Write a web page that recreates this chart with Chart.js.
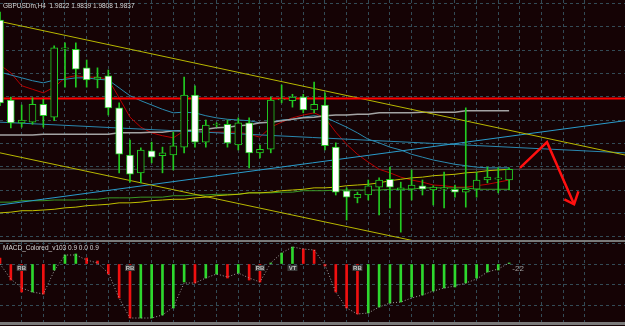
<!DOCTYPE html>
<html>
<head>
<meta charset="utf-8">
<script src="https://cdn.jsdelivr.net/npm/chart.js@4.4.1/dist/chart.umd.min.js"></script>
<style>
  body { margin: 0; background: #150305; width: 625px; height: 326px; overflow: hidden; position: relative; font-family: 'Liberation Sans', Arial, sans-serif; }
  canvas { position: absolute; left: 0; }
  #main { top: 0; }
  #macd { top: 242px; }
  .sep { position: absolute; left: 0; width: 625px; background: #7a7a7a; }
  .lbl { position: absolute; left: 3px; color: #d6d6d6; font-size: 6.5px; line-height: 1; white-space: pre; }
</style>
</head>
<body>
<canvas id="main" width="625" height="240"></canvas>
<div class="sep" style="top:240px;height:2px"></div>
<canvas id="macd" width="625" height="80"></canvas>
<div class="sep" style="top:322px;height:3px"></div>
<div class="lbl" id="head" style="top:3px"></div>
<div class="lbl" id="macdName" style="top:245px"></div>

<script>
const symbol = 'GBPUSDm'
const period = 'H4'

// H4 candles, oldest first
const opens  = [2.0046, 1.9934, 1.9902, 1.9903, 1.9928, 1.9910, 2.0005, 2.0005, 1.9979, 1.9963,
                1.9968, 1.9923, 1.9857, 1.9832, 1.9863, 1.9856, 1.9857, 1.9868, 1.9941, 1.9875,
                1.9899, 1.9900, 1.9871, 1.9902, 1.9860, 1.9865, 1.9934, 1.9933, 1.9938, 1.9920,
                1.9927, 1.9868, 1.9807, 1.9797, 1.9801, 1.9812, 1.9823, 1.9808, 1.9809, 1.9814,
                1.9808, 1.9809, 1.9809, 1.9805, 1.9809, 1.9822, 1.9823, 1.9822]
const highs  = [2.0057, 1.9938, 1.9927, 1.9937, 1.9935, 2.0010, 2.0014, 2.0014, 1.9990, 1.9979,
                1.9976, 1.9930, 1.9878, 1.9867, 1.9875, 1.9868, 1.9889, 1.9966, 1.9954, 1.9906,
                1.9902, 1.9906, 1.9909, 1.9909, 1.9871, 1.9938, 1.9955, 1.9942, 1.9942, 1.9959,
                1.9944, 1.9874, 1.9811, 1.9805, 1.9822, 1.9825, 1.9840, 1.9819, 1.9836, 1.9822,
                1.9814, 1.9833, 1.9815, 1.9923, 1.9833, 1.9840, 1.9839, 1.9839]
const lows   = [1.9926, 1.9895, 1.9896, 1.9900, 1.9896, 1.9905, 1.9952, 1.9952, 1.9952, 1.9951,
                1.9913, 1.9832, 1.9819, 1.9818, 1.9846, 1.9832, 1.9836, 1.9860, 1.9868, 1.9868,
                1.9896, 1.9868, 1.9864, 1.9839, 1.9853, 1.9860, 1.9930, 1.9924, 1.9916, 1.9916,
                1.9864, 1.9801, 1.9766, 1.9790, 1.9794, 1.9773, 1.9783, 1.9749, 1.9794, 1.9801,
                1.9787, 1.9783, 1.9798, 1.9784, 1.9798, 1.9818, 1.9804, 1.9808]
const closes = [1.9930, 1.9902, 1.9906, 1.9928, 1.9912, 2.0007, 2.0007, 1.9977, 1.9962, 1.9966,
                1.9923, 1.9858, 1.9830, 1.9864, 1.9854, 1.9860, 1.9870, 1.9941, 1.9875, 1.9899,
                1.9900, 1.9874, 1.9902, 1.9860, 1.9865, 1.9934, 1.9935, 1.9938, 1.9920, 1.9928,
                1.9870, 1.9805, 1.9798, 1.9802, 1.9814, 1.9822, 1.9812, 1.9811, 1.9815, 1.9809,
                1.9812, 1.9811, 1.9805, 1.9809, 1.9822, 1.9826, 1.9825, 1.9837]

// moving averages drawn on the price window
const maRed    = [1.9983, 1.9972, 1.9954, 1.9949, 1.9944, 1.9952, 1.9965, 1.9968, 1.9966, 1.9966,
                  1.9963, 1.9937, 1.9910, 1.9896, 1.9888, 1.9884, 1.9881, 1.9891, 1.9891, 1.9889,
                  1.9889, 1.9889, 1.9889, 1.9886, 1.9882, 1.9896, 1.9903, 1.9909, 1.9913, 1.9916,
                  1.9909, 1.9889, 1.9872, 1.9858, 1.9847, 1.9837, 1.9832, 1.9826, 1.9822, 1.9819,
                  1.9815, 1.9814, 1.9812, 1.9812, 1.9814, 1.9816, 1.9819, 1.9822]
const maTeal   = [1.9973, 1.9969, 1.9965, 1.9961, 1.9958, 1.9962, 1.9963, 1.9965, 1.9965, 1.9963,
                  1.9962, 1.9951, 1.9940, 1.9933, 1.9927, 1.9921, 1.9916, 1.9917, 1.9916, 1.9912,
                  1.9909, 1.9907, 1.9906, 1.9905, 1.9902, 1.9903, 1.9906, 1.9907, 1.9910, 1.9912,
                  1.9910, 1.9903, 1.9896, 1.9888, 1.9879, 1.9874, 1.9868, 1.9864, 1.9858, 1.9854,
                  1.9850, 1.9847, 1.9844, 1.9842, 1.9840, 1.9839, 1.9839, 1.9839]
const maGray   = [1.9885, 1.9885, 1.9885, 1.9885, 1.9886, 1.9886, 1.9886, 1.9886, 1.9886, 1.9886,
                  1.9886, 1.9888, 1.9888, 1.9888, 1.9889, 1.9889, 1.9891, 1.9891, 1.9892, 1.9893,
                  1.9895, 1.9896, 1.9898, 1.9899, 1.9902, 1.9903, 1.9905, 1.9907, 1.9909, 1.9910,
                  1.9912, 1.9913, 1.9913, 1.9914, 1.9914, 1.9916, 1.9916, 1.9916, 1.9916, 1.9917,
                  1.9917, 1.9917, 1.9917, 1.9919, 1.9919, 1.9919, 1.9919, 1.9919]
const maYellow = [1.9776, 1.9777, 1.9779, 1.9779, 1.9780, 1.9781, 1.9783, 1.9784, 1.9786, 1.9787,
                  1.9788, 1.9790, 1.9790, 1.9791, 1.9793, 1.9794, 1.9795, 1.9795, 1.9797, 1.9798,
                  1.9800, 1.9801, 1.9802, 1.9804, 1.9804, 1.9805, 1.9807, 1.9808, 1.9809, 1.9811,
                  1.9811, 1.9812, 1.9814, 1.9815, 1.9816, 1.9818, 1.9821, 1.9823, 1.9825, 1.9826,
                  1.9828, 1.9829, 1.9830, 1.9832, 1.9833, 1.9835, 1.9836, 1.9837]
const maGreen  = [1.9791, 1.9791, 1.9793, 1.9793, 1.9793, 1.9794, 1.9794, 1.9794, 1.9795, 1.9795,
                  1.9797, 1.9797, 1.9797, 1.9798, 1.9798, 1.9798, 1.9800, 1.9800, 1.9801, 1.9801,
                  1.9802, 1.9802, 1.9802, 1.9804, 1.9804, 1.9804, 1.9805, 1.9805, 1.9807, 1.9807,
                  1.9807, 1.9808, 1.9808, 1.9808, 1.9808, 1.9808, 1.9809, 1.9809, 1.9809, 1.9811,
                  1.9811, 1.9811, 1.9811, 1.9811, 1.9809, 1.9809, 1.9809, 1.9809]

// hand drawn objects: [bar index, price]
const trendUpper = [[0, 2.0044], [57.7, 1.9857]]
const trendLower = [[0, 1.9860], [57.7, 1.9674]]
const trendCyan  = [[0, 1.9787], [57.7, 1.9905]]
const trendTeal  = [[0, 1.9903], [57.7, 1.9860]]
const levelRed   = 1.9936
const arrowPath  = [[48.0, 1.9839], [50.5, 1.9875], [53.0, 1.9788]]
const arrowHead  = [[52.1, 1.9795], [53.0, 1.9788], [53.4, 1.9806]]

// price grid levels
const gridPrices = [2.0069, 2.0037, 2.0004, 1.9971, 1.9939, 1.9906, 1.9873, 1.9841, 1.9808, 1.9775, 1.9743]

// MACD_Colored window
const macdHist   = [6, -16, -28, -28, -30, -6, 9, 10, 6, 3,
                    -10, -34, -54, -54, -54, -51, -44, -18, -19, -14,
                    -10, -14, -9, -16, -18, 1, 11, 17, 15, 14,
                    -2, -28, -44, -50, -49, -43, -39, -38, -33, -31,
                    -27, -24, -23, -19, -14, -8, -6, 1]
const macdSignal = [0, -15, -24, -28, -30, -7, 9, 9, 4, 1,
                    -9, -34, -54, -54, -54, -51, -43, -19, -19, -14,
                    -10, -13, -9, -14, -18, 1, 11, 17, 15, 14,
                    -1, -28, -44, -50, -49, -43, -39, -38, -34, -31,
                    -27, -24, -22, -19, -15, -8, -5, 1]
const macdGrid = [20.7, 0, -20.7, -41.4]
const macdTags = [
  { at: 2, text: 'RB' }, { at: 12, text: 'RB' }, { at: 24, text: 'RB' },
  { at: 27, text: 'VT' }, { at: 33, text: 'RB' }
]
const macdValueText = '-22'

const BG = '#150305'
const GREEN = '#22cc22'
const GRID = '#334b56'
const X_MAX = 57.7
const last = closes.length - 1

document.getElementById('head').textContent =
  symbol + ',' + period + '  ' + [opens[last], highs[last], lows[last], closes[last]].map(v => v.toFixed(4)).join(' ')
document.getElementById('macdName').textContent = 'MACD_Colored_v103 0.9 0.0 0.9'

const pts = arr => arr.map((v, i) => ({ x: i, y: v }))
const pairs = arr => arr.map(p => ({ x: p[0], y: p[1] }))

function xScale() {
  return {
    type: 'linear', min: 0, max: X_MAX, offset: false,
    ticks: { display: false, stepSize: 2 },
    afterBuildTicks: a => { a.ticks = a.ticks.filter(t => t.value > 0 && t.value % 2 === 0) },
    grid: { color: GRID, drawTicks: false, offset: false },
    border: { display: false, dash: [3, 3] }
  }
}

function line(data, color, width, order, extra) {
  return Object.assign({
    type: 'line', data, borderColor: color, borderWidth: width,
    pointRadius: 0, tension: 0, fill: false, order
  }, extra || {})
}

const mainChart = new Chart(document.getElementById('main'), {
  type: 'bar',
  data: {
    datasets: [
      line(pairs(arrowPath), '#ff1010', 2.5, -2),
      line(pairs(arrowHead), '#ff1010', 2.5, -2),
      {
        label: 'body',
        data: opens.map((o, i) => ({ x: i, y: [o, closes[i]] })),
        backgroundColor: c => closes[c.dataIndex] < opens[c.dataIndex] ? '#ffffff' : BG,
        borderColor: GREEN, borderWidth: 1, borderSkipped: false,
        barThickness: 7, minBarLength: 1, grouped: false, order: 0
      },
      {
        label: 'wick',
        data: lows.map((l, i) => ({ x: i, y: [l, highs[i]] })),
        backgroundColor: GREEN, borderWidth: 0,
        barThickness: 1, grouped: false, order: 1
      },
      line(pairs([[0, levelRed], [X_MAX, levelRed]]), '#ff0000', 2, 2),
      line(pairs([[0, closes[last]], [X_MAX, closes[last]]]), '#4a4a4a', 1, 9),
      line(pairs(trendUpper), '#b8b800', 1, 3),
      line(pairs(trendLower), '#b8b800', 1, 3),
      line(pairs(trendCyan), '#2a9ccc', 1, 3),
      line(pairs(trendTeal), '#2a88b0', 1, 3),
      line(pts(maYellow), '#c0c000', 1, 4),
      line(pts(maGreen), '#3a9a26', 1, 4),
      line(pts(maGray), '#a4a4a4', 1.5, 4),
      line(pts(maTeal), '#2b8ab0', 1, 4),
      line(pts(maRed), '#b80000', 1, 4)
    ]
  },
  options: {
    responsive: false, devicePixelRatio: 1, animation: false, events: [],
    layout: { padding: 0 },
    plugins: { legend: { display: false }, tooltip: { enabled: false } },
    scales: {
      x: xScale(),
      y: {
        min: 1.9738, max: 2.0074,
        ticks: { display: false },
        afterBuildTicks: a => { a.ticks = gridPrices.map(v => ({ value: v })) },
        grid: { color: GRID, drawTicks: false },
        border: { display: false, dash: [3, 3] }
      }
    }
  }
})

const tagPlugin = {
  id: 'tags',
  afterDatasetsDraw(chart) {
    const { ctx, scales } = chart
    const y = scales.y.getPixelForValue(-4)
    ctx.save()
    ctx.font = 'bold 6px "Liberation Sans"'
    ctx.textAlign = 'center'
    ctx.textBaseline = 'middle'
    macdTags.forEach(t => {
      const x = scales.x.getPixelForValue(t.at)
      ctx.fillStyle = '#3a3a3a'
      ctx.fillRect(x - 5, y - 3, 10, 6)
      ctx.fillStyle = '#c4c4c4'
      ctx.fillText(t.text, x, y)
    })
    ctx.font = '8px "Liberation Sans"'
    ctx.textAlign = 'left'
    ctx.fillStyle = '#a0a0a0'
    ctx.fillText(macdValueText, scales.x.getPixelForValue(last + 0.3), y + 1)
    ctx.restore()
  }
}

const macdChart = new Chart(document.getElementById('macd'), {
  type: 'bar',
  data: {
    datasets: [
      {
        data: pts(macdHist),
        backgroundColor: c => c.dataIndex > 0 && macdHist[c.dataIndex] >= macdHist[c.dataIndex - 1] ? '#2ed82e' : '#f01010',
        barThickness: 2, grouped: false, order: 1
      },
      line(pts(macdSignal), '#a0a0a0', 1, 0, { borderDash: [1, 2] })
    ]
  },
  options: {
    responsive: false, devicePixelRatio: 1, animation: false, events: [],
    layout: { padding: 0 },
    plugins: { legend: { display: false }, tooltip: { enabled: false } },
    scales: {
      x: xScale(),
      y: {
        min: -58, max: 22,
        ticks: { display: false },
        afterBuildTicks: a => { a.ticks = macdGrid.map(v => ({ value: v })) },
        grid: { color: GRID, drawTicks: false },
        border: { display: false, dash: [3, 3] }
      }
    }
  },
  plugins: [tagPlugin]
})
</script>
</body>
</html>
